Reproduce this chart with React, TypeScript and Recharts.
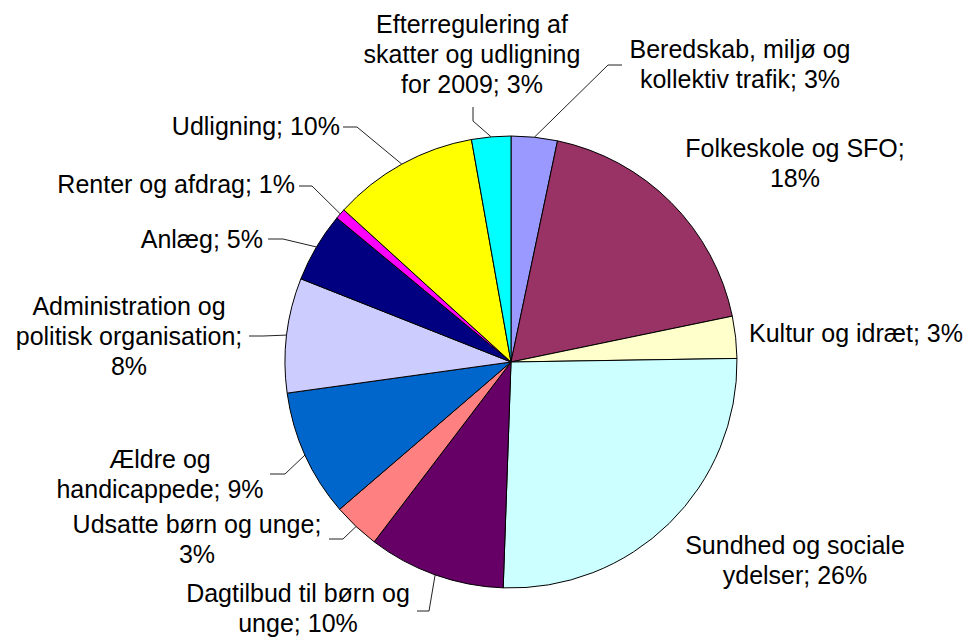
import React from "react";
import { PieChart, Pie, Cell } from "recharts";

// budget areas, clockwise from 12 o'clock
const categories = [
  "Beredskab, miljø og kollektiv trafik",
  "Folkeskole og SFO",
  "Kultur og idræt",
  "Sundhed og sociale ydelser",
  "Dagtilbud til børn og unge",
  "Udsatte børn og unge",
  "Ældre og handicappede",
  "Administration og politisk organisation",
  "Anlæg",
  "Renter og afdrag",
  "Udligning",
  "Efterregulering af skatter og udligning for 2009",
];

// share of total (%)
const shares = [3.3, 18.45, 3.0, 25.8, 9.8, 3.35, 9.1, 8.2, 5.0, 0.75, 10.45, 2.8];

const colors = [
  "#9999FF",
  "#993366",
  "#FFFFCC",
  "#CCFFFF",
  "#660066",
  "#FF8080",
  "#0066CC",
  "#CCCCFF",
  "#000080",
  "#FF00FF",
  "#FFFF00",
  "#00FFFF",
];

// how many words of "name; pct%" go on each label line
const wordsPerLine = [
  [3, 3],
  [3, 1],
  [4],
  [3, 2],
  [4, 2],
  [4, 1],
  [2, 2],
  [2, 2, 1],
  [2],
  [4],
  [2],
  [2, 3, 3],
];

type LabelSpot = {
  dx: number;
  dy: number;
  anchor: "start" | "middle" | "end";
  lead?: [number, number][];
};

// label placement relative to the pie centre; lead = leader points before the slice edge
const labelSpots: LabelSpot[] = [
  { dx: 229, dy: -304, anchor: "middle", lead: [[111, -297], [97, -297]] },
  { dx: 284, dy: -205, anchor: "middle" },
  { dx: 238, dy: -20, anchor: "start" },
  { dx: 284, dy: 192, anchor: "middle" },
  { dx: -213, dy: 240, anchor: "middle", lead: [[-94, 249], [-82, 249]] },
  { dx: -314, dy: 171, anchor: "middle", lead: [[-182, 177], [-168, 177]] },
  { dx: -351, dy: 106, anchor: "middle", lead: [[-241, 112], [-226, 112]] },
  { dx: -382, dy: -47, anchor: "middle", lead: [[-262, -26], [-248, -26]] },
  { dx: -248, dy: -114, anchor: "end", lead: [[-243, -123], [-228, -123]] },
  { dx: -216, dy: -169, anchor: "end", lead: [[-212, -176], [-199, -176]] },
  { dx: -171, dy: -227, anchor: "end", lead: [[-168, -235], [-154, -235]] },
  { dx: -39, dy: -329, anchor: "middle", lead: [[-38, -255], [-38, -241]] },
];

const data = categories.map((name, i) => ({ name, value: shares[i] }));

const RADIAN = Math.PI / 180;
const FONT = "'Liberation Sans', Arial, sans-serif";
const LINE_H = 30;

const renderLabel = (props: any) => {
  const { cx, cy, midAngle, outerRadius, percent, index, name } = props;
  const spot = labelSpots[index];
  const words = `${name}; ${Math.round(percent * 100)}%`.split(" ");
  const lines: string[] = [];
  let k = 0;
  wordsPerLine[index].forEach((n) => {
    lines.push(words.slice(k, k + n).join(" "));
    k += n;
  });
  const ex = cx + outerRadius * Math.cos(-midAngle * RADIAN);
  const ey = cy + outerRadius * Math.sin(-midAngle * RADIAN);
  const x = cx + spot.dx;
  const y = cy + spot.dy;

  return (
    <g key={`lbl-${index}`}>
      {spot.lead && (
        <polyline
          points={[...spot.lead.map(([a, b]) => `${cx + a},${cy + b}`), `${ex},${ey}`].join(" ")}
          fill="none"
          stroke="#222"
          strokeWidth={1}
        />
      )}
      <text x={x} y={y} textAnchor={spot.anchor} fontFamily={FONT} fontSize={25} fill="#000">
        {lines.map((ln, i) => (
          <tspan key={i} x={x} dy={i === 0 ? 0 : LINE_H}>
            {ln}
          </tspan>
        ))}
      </text>
    </g>
  );
};

export default function App() {
  return (
    <div style={{ position: "absolute", left: 0, top: 0, width: 973, height: 639, background: "#fff" }}>
      <PieChart width={973} height={639} margin={{ top: 0, right: 0, bottom: 0, left: 0 }}>
        <Pie
          data={data}
          dataKey="value"
          nameKey="name"
          cx={511}
          cy={362}
          outerRadius={226}
          startAngle={90}
          endAngle={-270}
          stroke="#000"
          strokeWidth={1}
          label={renderLabel}
          labelLine={false}
          isAnimationActive={false}
        >
          {data.map((d, i) => (
            <Cell key={d.name} fill={colors[i]} />
          ))}
        </Pie>
      </PieChart>
    </div>
  );
}
